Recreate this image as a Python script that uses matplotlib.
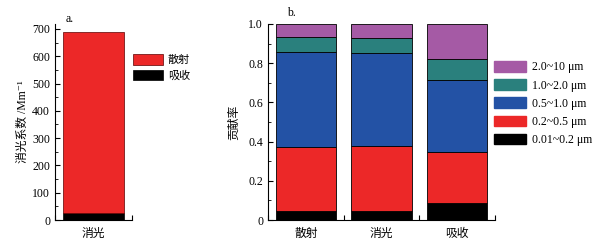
import matplotlib
matplotlib.use("Agg")
import matplotlib.pyplot as plt
import numpy as np
from matplotlib.patches import Patch
from matplotlib.ticker import MultipleLocator

plt.rcParams.update(
    {
        "font.family": ["Liberation Serif", "Noto Sans CJK SC", "DejaVu Serif"],
        "font.size": 8.5,
        "axes.linewidth": 0.8,
        "xtick.direction": "in",
        "ytick.direction": "in",
    }
)

# panel a: extinction split into scattering / absorption (Mm^-1)
a_category = ["消光"]
a_absorb = [27]
a_scatter = [661]
a_labels = ["散射", "吸收"]

# panel b: contribution of each size range
b_categories = ["散射", "消光", "吸收"]
size_bins = ["0.01~0.2 μm", "0.2~0.5 μm", "0.5~1.0 μm", "1.0~2.0 μm", "2.0~10 μm"]
fractions = [
    [0.046, 0.048, 0.085],
    [0.325, 0.328, 0.264],
    [0.484, 0.474, 0.364],
    [0.077, 0.080, 0.110],
    [0.068, 0.070, 0.177],
]
bin_colors = ["#000000", "#EC2828", "#2352A5", "#2A807D", "#A55AA5"]

fig = plt.figure(figsize=(6, 2.49), dpi=100)
bottom, top = 1 - 220 / 249, 1 - 24 / 249

# ---- panel a
ax1 = fig.add_axes([55 / 600, bottom, 77 / 600, top - bottom])
x1 = np.arange(len(a_category))
ax1.bar(x1, a_absorb, width=0.8, color="black", edgecolor="black", lw=0.5)
ax1.bar(x1, a_scatter, width=0.8, bottom=a_absorb, color="#EC2828",
        edgecolor="#5a0000", lw=0.5)
ax1.set_xlim(-0.5, 0.5)
ax1.set_ylim(0, 718)
ax1.yaxis.set_major_locator(MultipleLocator(100))
ax1.yaxis.set_minor_locator(MultipleLocator(50))
ax1.set_xticks([-0.5, 0.5], ["", ""])
ax1.set_xticks(x1, a_category, minor=True)
ax1.tick_params(axis="x", which="minor", length=0, pad=6, labelsize=8.5)
ax1.tick_params(axis="both", which="major", length=3.5)
ax1.tick_params(axis="y", which="minor", length=2)
ax1.set_ylabel("消光系数 /Mm⁻¹", fontsize=8.5, labelpad=2)
for s in ["top", "right"]:
    ax1.spines[s].set_visible(False)
ax1.legend(
    [Patch(facecolor="#EC2828", edgecolor="#5a0000", lw=0.5),
     Patch(facecolor="black", edgecolor="black", lw=0.5)],
    a_labels,
    loc="upper left",
    bbox_to_anchor=(133 / 600, 1 - 54 / 249),
    bbox_transform=fig.transFigure,
    frameon=False, fontsize=8, borderpad=0, borderaxespad=0,
    handlelength=2.7, handleheight=1.1, labelspacing=0.4, handletextpad=0.45,
)
fig.text(66 / 600, 1 - 19 / 249, "a.", fontsize=8.5, va="center")

# ---- panel b
ax2 = fig.add_axes([268 / 600, bottom, 227 / 600, top - bottom])
x2 = np.arange(len(b_categories))
base = np.zeros(len(b_categories))
handles = []
for vals, col in zip(fractions, bin_colors):
    ax2.bar(x2, vals, width=0.8, bottom=base, color=col, edgecolor="black", lw=0.6)
    base += np.array(vals)
    handles.append(Patch(facecolor=col, edgecolor=col))
ax2.set_xlim(-0.5, len(b_categories) - 0.5)
ax2.set_ylim(0, 1.0)
ax2.yaxis.set_major_locator(MultipleLocator(0.2))
ax2.yaxis.set_minor_locator(MultipleLocator(0.1))
ax2.yaxis.set_major_formatter(lambda v, p: "0" if v == 0 else f"{v:.1f}")
ax2.set_xticks(np.arange(len(b_categories) + 1) - 0.5, [""] * (len(b_categories) + 1))
ax2.set_xticks(x2, b_categories, minor=True)
ax2.tick_params(axis="x", which="minor", length=0, pad=6, labelsize=8.5)
ax2.tick_params(axis="both", which="major", length=3.5)
ax2.tick_params(axis="y", which="minor", length=2)
ax2.set_ylabel("贡献率", fontsize=8.5, labelpad=6)
for s in ["top", "right"]:
    ax2.spines[s].set_visible(False)
ax2.legend(
    handles[::-1],
    size_bins[::-1],
    loc="upper left",
    bbox_to_anchor=(494 / 600, 1 - 61 / 249),
    bbox_transform=fig.transFigure,
    frameon=False, fontsize=8.5, borderpad=0, borderaxespad=0,
    handlelength=2.7, handleheight=1.0, labelspacing=0.5, handletextpad=0.5,
)
fig.text(287 / 600, 1 - 13 / 249, "b.", fontsize=8.5, va="center")

fig.savefig("out.png", dpi=100)
